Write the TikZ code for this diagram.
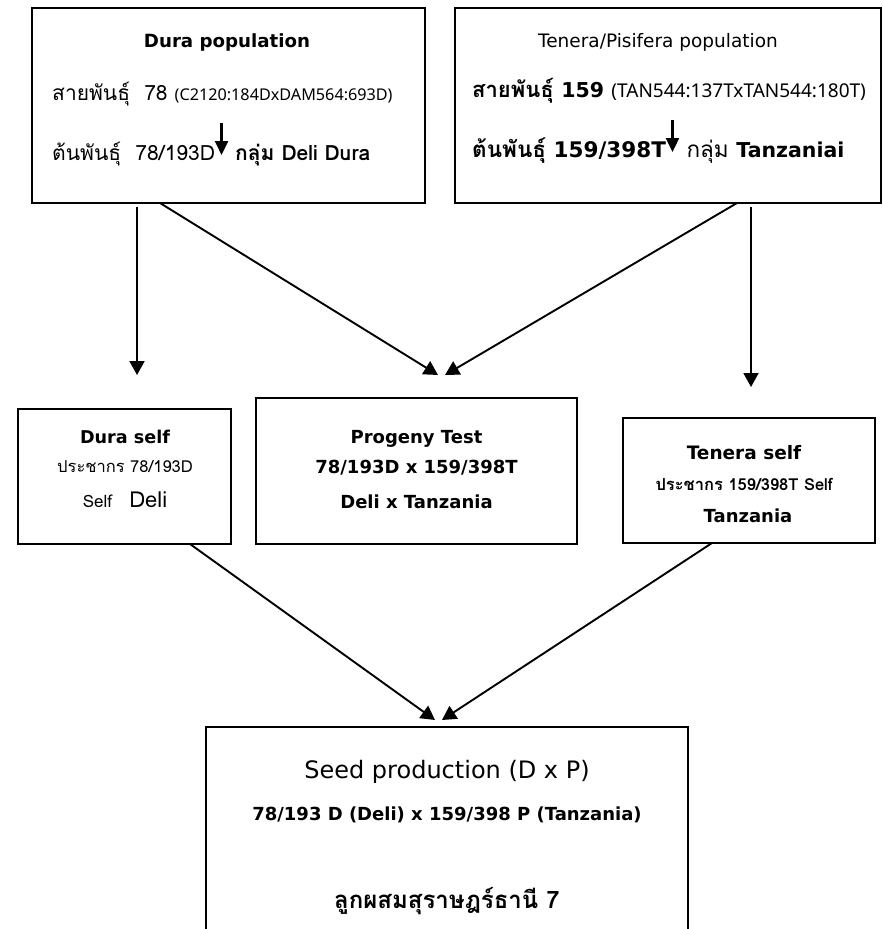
\documentclass[tikz,border=0pt]{standalone}
\usepackage{fontspec}
\setmainfont{Loma}[Script=Thai]
\newfontfamily\lat{DejaVu Sans}
\newfontfamily\pfont{Noto Sans}
\usetikzlibrary{arrows.meta}

\newcommand{\fsz}[1]{\fontsize{#1}{#1}\selectfont}
% small inline down arrow used inside the population boxes
\newcommand{\dnarrow}{\tikz[baseline=0pt]\draw[line width=2.4pt,-{Triangle[width=13pt,length=14pt]}] (0pt,37pt) -- (0pt,5pt);}

\tikzset{
  box/.style={draw, line width=1.8pt, rectangle, inner sep=0pt, outer sep=0pt},
  arr/.style={line width=1.9pt, -{Triangle[width=15pt,length=14pt]}},
  txt/.style={inner sep=0pt, anchor=base},
  ltxt/.style={inner sep=0pt, anchor=base west},
}

\begin{document}
\begin{tikzpicture}[x=1pt,y=-1pt]
\clip (0,0) rectangle (883,929);
\fill[white] (0,0) rectangle (883,929);

% boxes
\node[box, minimum width=393pt, minimum height=195pt] (dura) at (228.5,105.5) {};
\node[box, minimum width=426pt, minimum height=195pt] (tenera) at (668,105.5) {};
\node[box, minimum width=213pt, minimum height=135pt] (duraself) at (124.5,476.5) {};
\node[box, minimum width=321pt, minimum height=146pt] (progeny) at (416.5,471) {};
\node[box, minimum width=252pt, minimum height=125pt] (teneraself) at (749,480.5) {};
\node[box, minimum width=482pt, minimum height=260pt] (seed) at (447,857) {};

% Dura population
\node[txt, font=\lat\bfseries\fsz{18.2}] (t1) at (227,47) {Dura population};
\node[ltxt, font=\fsz{21}] (t2) at (52,100) {สายพันธุ์\ \ 78 {\pfont\fsz{16.2}(C2120:184DxDAM564:693D)}};
\node[ltxt, font=\fsz{21}] (t3) at (52,160) {ต้นพันธุ์\ \ 78/193D\dnarrow\ \textbf{กลุ่ม Deli Dura}};

% Tenera/Pisifera population
\node[txt, font=\lat\fsz{18.5}] (t4) at (658,47) {Tenera/Pisifera population};
\node[ltxt, font=\bfseries\fsz{22}] (t5) at (472,97) {สายพันธุ์ {\lat\fsz{20.5}159} {\pfont\fsz{19}(TAN544:137TxTAN544:180T)}};
\node[ltxt, font=\fsz{22.5}] (t6) at (472,157) {\textbf{ต้นพันธุ์ {\lat\fsz{21.5}159/398T}}\dnarrow\ กลุ่ม {\lat\bfseries\fsz{20.5}Tanzaniai}};

% Dura self
\node[txt, font=\lat\bfseries\fsz{17.6}] (t7) at (125,443) {Dura self};
\node[txt, font=\fsz{16.5}] (t8) at (125,472) {ประชากร 78/193D};
\node[txt, font=\fsz{17}] (t9) at (125,507) {Self\ \ \ {\fsz{22}Deli}};

% Progeny test
\node[txt, font=\lat\bfseries\fsz{18}] (t10) at (416.5,443) {Progeny Test};
\node[txt, font=\lat\bfseries\fsz{18}] (t11) at (416.5,473) {78/193D x 159/398T};
\node[txt, font=\lat\bfseries\fsz{18}] (t12) at (416.5,508) {Deli x Tanzania};

% Tenera self
\node[txt, font=\lat\bfseries\fsz{18.5}] (t13) at (744,459) {Tenera self};
\node[txt, font=\bfseries\fsz{16.5}] (t14) at (744,490) {ประชากร 159/398T Self};
\node[txt, font=\lat\bfseries\fsz{18}] (t15) at (748,522) {Tanzania};

% Seed production
\node[txt, font=\lat\fsz{24}] (t16) at (447,778) {Seed production (D x P)};
\node[txt, font=\lat\bfseries\fsz{18}] (t17) at (447,820) {78/193 D (Deli) x 159/398 P (Tanzania)};
\node[txt, font=\bfseries\fsz{24}] (t18) at (447,908) {ลูกผสมสุราษฎร์ธานี 7};

% arrow end points
\coordinate (e1) at (137,375);
\coordinate (e2) at (438,375);
\coordinate (e3) at (445,375);
\coordinate (e4) at (751,387);
\coordinate (e5) at (435,720);
\coordinate (e6) at (442,720);

% connectors
\draw[arr] ([xshift=-91.5pt,yshift=-4pt]dura.south) -- (e1);
\draw[arr] ([xshift=-68.5pt]dura.south) -- (e2);
\draw[arr] ([xshift=69pt]tenera.south) -- (e3);
\draw[arr] ([xshift=83pt,yshift=-4pt]tenera.south) -- (e4);
\draw[arr] ([xshift=65.5pt]duraself.south) -- (e5);
\draw[arr] ([xshift=-37pt]teneraself.south) -- (e6);
\end{tikzpicture}
\end{document}
